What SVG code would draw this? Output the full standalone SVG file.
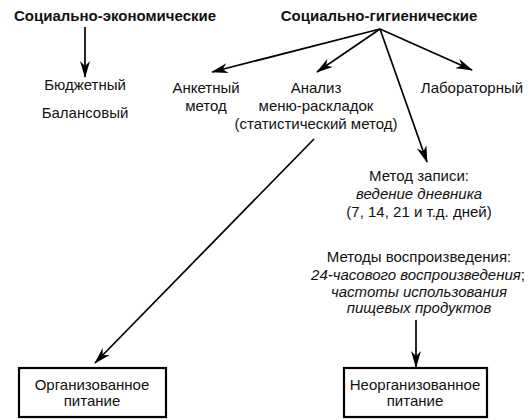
<svg xmlns="http://www.w3.org/2000/svg" width="531" height="420" viewBox="0 0 531 420">
<style>
text{font-family:"Liberation Sans",Arial,sans-serif;font-size:15px;fill:#111;text-anchor:middle}
.b{font-weight:bold}
.i{font-style:italic}
.c{stroke:#000;stroke-width:1.7;fill:none;marker-end:url(#ah)}
.box{fill:#fff;stroke:#000;stroke-width:2.2}
</style>
<defs>
<marker id="ah" viewBox="0 0 17 10" refX="16" refY="5" markerWidth="17" markerHeight="10" markerUnits="userSpaceOnUse" orient="auto">
<path d="M0,0 L17,5 L0,10 L5,5 z" fill="#000"/>
</marker>
</defs>
<rect width="531" height="420" fill="#fff"/>
<g id="connectors">
<line class="c" x1="85" y1="27" x2="85" y2="77"/>
<line class="c" x1="380" y1="29" x2="212" y2="72"/>
<line class="c" x1="380" y1="29" x2="317" y2="72"/>
<line class="c" x1="380" y1="29" x2="472" y2="70"/>
<line class="c" x1="380" y1="29" x2="427" y2="162"/>
<line class="c" x1="314" y1="139" x2="95" y2="363"/>
<line class="c" x1="416" y1="320" x2="416" y2="367"/>
</g>
<g id="n-socecon"><text class="b" x="115" y="21">Социально-экономические</text></g>
<g id="n-sochyg"><text class="b" x="379" y="21">Социально-гигиенические</text></g>
<g id="n-budget"><text x="85" y="90">Бюджетный</text></g>
<g id="n-balance"><text x="85" y="118">Балансовый</text></g>
<g id="n-anketa"><text x="206" y="93">Анкетный</text><text x="206" y="111">метод</text></g>
<g id="n-analiz"><text x="316" y="93">Анализ</text><text x="316" y="111">меню-раскладок</text><text x="316" y="129">(статистический метод)</text></g>
<g id="n-lab"><text x="472" y="93">Лабораторный</text></g>
<g id="n-zapis"><text x="419" y="181">Метод записи:</text><text class="i" x="419" y="199">ведение дневника</text><text x="419" y="217">(7, 14, 21 и т.д. дней)</text></g>
<g id="n-vospr"><text x="419" y="262">Методы воспроизведения:</text><text x="418" y="280"><tspan class="i">24-часового воспроизведения</tspan>;</text><text class="i" x="419" y="297">частоты использования</text><text class="i" x="419" y="313">пищевых продуктов</text></g>
<g id="n-org"><rect class="box" x="19" y="368" width="147" height="49"/><text x="92" y="390">Организованное</text><text x="92" y="406">питание</text></g>
<g id="n-neorg"><rect class="box" x="344" y="368" width="143" height="49"/><text x="415" y="390">Неорганизованное</text><text x="415" y="406">питание</text></g>
</svg>
